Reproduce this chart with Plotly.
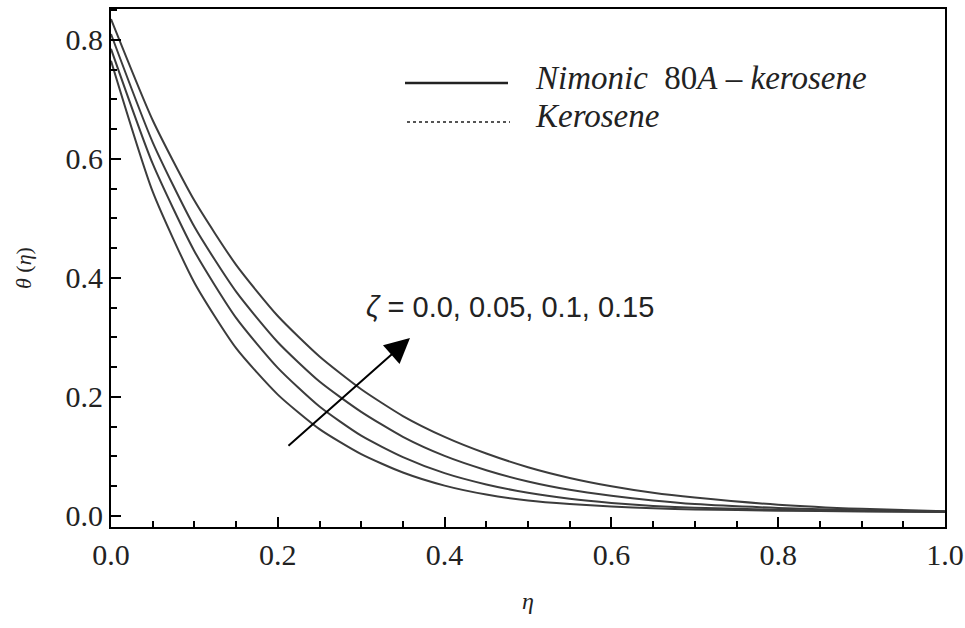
import plotly.graph_objects as go

# eta grid and theta(eta) profiles for the four zeta values
eta = [0.0, 0.05, 0.1, 0.15, 0.2, 0.25, 0.3, 0.35, 0.4, 0.45, 0.5, 0.55, 0.6, 0.65, 0.7, 0.8, 0.9, 1.0]
theta_z000 = [0.765, 0.545, 0.392, 0.282, 0.204, 0.146, 0.104, 0.073, 0.051, 0.036, 0.026, 0.020, 0.016, 0.013, 0.011, 0.009, 0.0075, 0.0065]
theta_z005 = [0.785, 0.592, 0.445, 0.333, 0.249, 0.184, 0.135, 0.099, 0.072, 0.053, 0.039, 0.029, 0.022, 0.017, 0.014, 0.0105, 0.0085, 0.007]
theta_z010 = [0.810, 0.628, 0.486, 0.377, 0.292, 0.226, 0.175, 0.133, 0.101, 0.077, 0.058, 0.044, 0.034, 0.026, 0.020, 0.0135, 0.0095, 0.0075]
theta_z015 = [0.835, 0.665, 0.530, 0.422, 0.336, 0.268, 0.213, 0.168, 0.133, 0.105, 0.082, 0.064, 0.050, 0.039, 0.031, 0.019, 0.012, 0.008]
series = [theta_z000, theta_z005, theta_z010, theta_z015]

legend_labels = ["<i>Nimonic</i>  80<i>A</i> \u2013 <i>kerosene</i>", "<i>Kerosene</i>"]
zeta_label = "<i>\u03b6</i> = 0.0, 0.05, 0.1, 0.15"
x_ticks = [0.0, 0.2, 0.4, 0.6, 0.8, 1.0]
y_ticks = [0.0, 0.2, 0.4, 0.6, 0.8]

fig = go.Figure()
for s in series:
    fig.add_trace(go.Scatter(x=eta, y=s, mode="lines",
                             line=dict(color="#3c3c3c", width=2, shape="spline", smoothing=0.6),
                             showlegend=False, hoverinfo="skip"))

serif = "Liberation Serif, Times New Roman, serif"

axis_common = dict(showline=True, linecolor="black", linewidth=2, mirror=True, ticks="inside",
                   ticklen=10, tickwidth=2, tickcolor="black", showgrid=False, zeroline=False,
                   automargin=False,
                   tickfont=dict(family=serif, size=30, color="#222"))

fig.update_layout(
    width=965, height=628,
    margin=dict(l=111, r=20, t=9, b=101),
    paper_bgcolor="white", plot_bgcolor="white",
    xaxis=dict(range=[0, 1], tickvals=x_ticks, tickformat=".1f",
               minor=dict(dtick=0.05, ticks="inside", ticklen=6, tickwidth=2, tickcolor="black"),
               title=dict(text="<i>\u03b7</i>", font=dict(family=serif, size=24, color="#222"), standoff=22),
               **axis_common),
    yaxis=dict(range=[-0.0185, 0.852], tickvals=y_ticks, tickformat=".1f",
               minor=dict(dtick=0.05, ticks="inside", ticklen=6, tickwidth=2, tickcolor="black"),
               title=dict(text="<i>\u03b8</i> (<i>\u03b7</i>)", font=dict(family=serif, size=22, color="#222"), standoff=28),
               **axis_common),
    showlegend=False,
)

# manual legend
fig.add_shape(type="line", xref="paper", yref="paper", x0=(405-111)/834, x1=(508-111)/834,
              y0=(527-83)/518, y1=(527-83)/518, line=dict(color="#222", width=2.5))
fig.add_shape(type="line", xref="paper", yref="paper", x0=(407-111)/834, x1=(510-111)/834,
              y0=(527-122)/518, y1=(527-122)/518, line=dict(color="#555", width=2, dash="dot"))
fig.add_annotation(xref="paper", yref="paper", x=(533-111)/834, y=(527-78)/518, xanchor="left", yanchor="middle",
                   text=legend_labels[0], showarrow=False, font=dict(family=serif, size=33, color="#222"))
fig.add_annotation(xref="paper", yref="paper", x=(533-111)/834, y=(527-116)/518, xanchor="left", yanchor="middle",
                   text=legend_labels[1], showarrow=False, font=dict(family=serif, size=33, color="#222"))

# arrow and zeta label
fig.add_annotation(x=0.3585, y=0.299, ax=0.211, ay=0.116, xref="x", yref="y", axref="x", ayref="y",
                   text="", showarrow=True, arrowhead=2, arrowsize=2.5, arrowwidth=2, arrowcolor="black")
fig.add_annotation(x=0.478, y=0.351, xref="x", yref="y", text=zeta_label, showarrow=False,
                   font=dict(family="Liberation Sans, Arial, sans-serif", size=29, color="#222"))

fig.write_html("out.html")
